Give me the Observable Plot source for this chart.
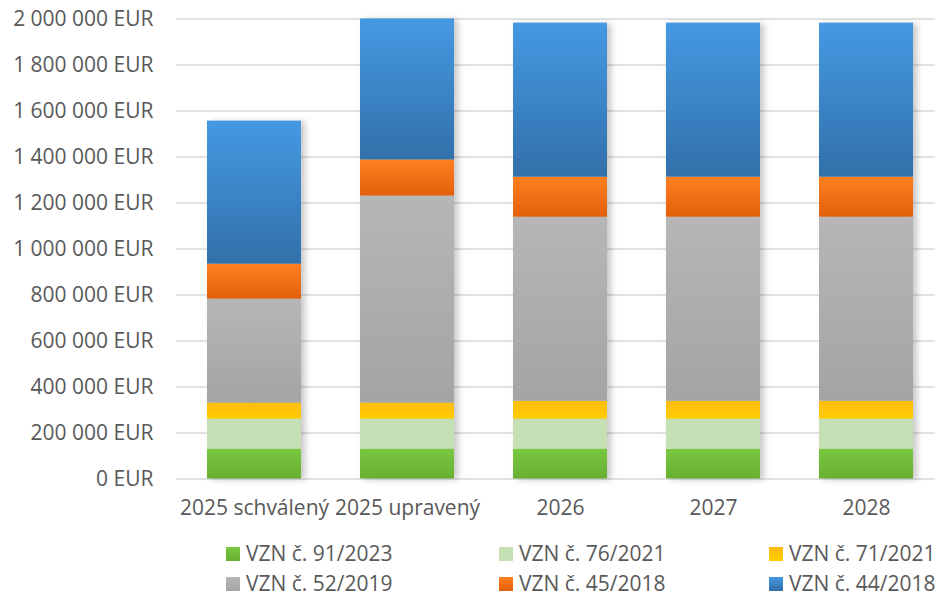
<!DOCTYPE html>
<html>
<head>
<meta charset="utf-8">
<script src="https://cdn.jsdelivr.net/npm/d3@7"></script>
<script src="https://cdn.jsdelivr.net/npm/@observablehq/plot@0.6"></script>
<style>
  body { margin: 0; background: #fff; }
  #wrap { position: relative; width: 935px; height: 596px; font-family: "Open Sans", sans-serif; color: #595959; }
  .leg { position: absolute; display: flex; align-items: center; font-size: 21px; line-height: 1; white-space: nowrap; }
  .sw { width: 14px; height: 14px; margin-right: 6px; }
</style>
</head>
<body>
<div id="wrap"></div>
<script>
const categories = ["2025 schválený", "2025 upravený", "2026", "2027", "2028"];
const seriesNames = ["VZN č. 91/2023", "VZN č. 76/2021", "VZN č. 71/2021", "VZN č. 52/2019", "VZN č. 45/2018", "VZN č. 44/2018"];
const vzn91_2023 = [130000, 130000, 130000, 130000, 130000];
const vzn76_2021 = [130000, 130000, 130000, 130000, 130000];
const vzn71_2021 = [70000, 70000, 78000, 78000, 78000];
const vzn52_2019 = [452000, 900000, 800000, 800000, 800000];
const vzn45_2018 = [152000, 157000, 174000, 174000, 174000];
const vzn44_2018 = [622000, 613000, 670000, 670000, 670000];
const yTicks = [0, 200000, 400000, 600000, 800000, 1000000, 1200000, 1400000, 1600000, 1800000, 2000000];

// gradient colours per series (top, bottom)
const gradStops = [
  ["#7AC740", "#66B131"],
  ["#C5E0B4", "#C5E0B4"],
  ["#FDBC0E", "#FFCD00"],
  ["#B6B6B6", "#A4A4A4"],
  ["#FF7F20", "#E3600C"],
  ["#4599E3", "#3270AA"]
];

const seriesValues = [vzn91_2023, vzn76_2021, vzn71_2021, vzn52_2019, vzn45_2018, vzn44_2018];
const data = [];
categories.forEach((c, ci) => {
  seriesNames.forEach((s, si) => data.push({cat: c, series: s, value: seriesValues[si][ci]}));
});

const fmt = v => d3.format(",")(v).replace(/,/g, " ") + " EUR";

const svg = Plot.plot({
  width: 935,
  height: 530,
  marginTop: 18.5,
  marginBottom: 51.5,
  marginLeft: 176,
  marginRight: 0,
  style: {fontFamily: "Open Sans, sans-serif", fontSize: "21px", color: "#595959", background: "#fff"},
  x: {domain: categories, range: [176.4, 942.6], paddingInner: 0.387, paddingOuter: 0.1935, label: null},
  y: {domain: [0, 2000000], label: null},
  color: {type: "ordinal", domain: seriesNames, range: seriesNames.map((s, i) => `url(#grad${i})`)},
  marks: [
    Plot.ruleY(yTicks, {stroke: "#d9d9d9", strokeWidth: 1.6}),
    Plot.barY(data, {x: "cat", y: "value", fill: "series"}),
    Plot.axisY({ticks: yTicks, tickFormat: fmt, tickSize: 0, tickPadding: 23, label: null, fill: "#595959"}),
    Plot.axisX({tickSize: 0, tickPadding: 21, label: null, fill: "#595959"})
  ]
});

const sel = d3.select(svg);
const defs = sel.insert("defs", ":first-child");
gradStops.forEach((st, i) => {
  const g = defs.append("linearGradient").attr("id", `grad${i}`).attr("x1", 0).attr("y1", 0).attr("x2", 0).attr("y2", 1);
  g.append("stop").attr("offset", "0%").attr("stop-color", st[0]);
  g.append("stop").attr("offset", "100%").attr("stop-color", st[1]);
});
sel.selectAll('g[aria-label="bar"]').style("filter", "drop-shadow(4px 1px 3px rgba(0,0,0,0.22))");

const wrap = document.getElementById("wrap");
wrap.appendChild(svg);

// legend below the chart
const colX = [226, 499, 769];
const rowY = [543, 573];
seriesNames.forEach((s, i) => {
  const d = document.createElement("div");
  d.className = "leg";
  d.style.left = colX[i % 3] + "px";
  d.style.top = rowY[Math.floor(i / 3)] + "px";
  const sw = document.createElement("div");
  sw.className = "sw";
  sw.style.background = `linear-gradient(${gradStops[i][0]}, ${gradStops[i][1]})`;
  d.appendChild(sw);
  const t = document.createElement("span");
  t.textContent = s;
  d.appendChild(t);
  wrap.appendChild(d);
});
</script>
</body>
</html>
